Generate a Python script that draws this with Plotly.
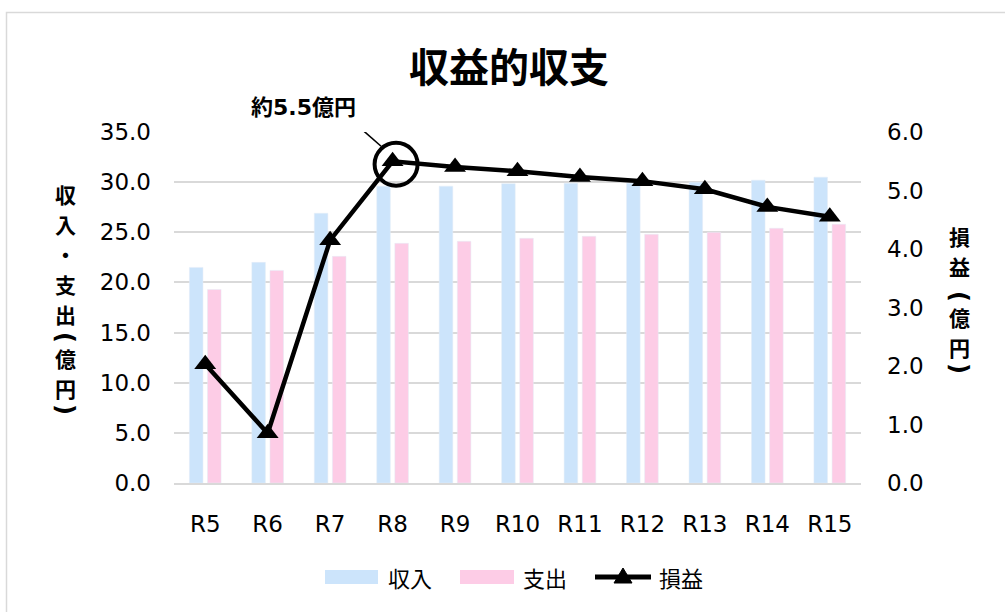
import plotly.graph_objects as go

# 年度別の収益的収支（億円）
years = ["R5", "R6", "R7", "R8", "R9", "R10", "R11", "R12", "R13", "R14", "R15"]
income = [21.5, 22.0, 26.9, 29.6, 29.6, 29.85, 29.9, 29.9, 30.0, 30.2, 30.5]
expense = [19.3, 21.2, 22.6, 23.9, 24.1, 24.4, 24.6, 24.8, 25.0, 25.4, 25.8]
profit = [2.03, 0.85, 4.15, 5.5, 5.4, 5.33, 5.23, 5.16, 5.02, 4.72, 4.55]

left_ticks = [0, 5, 10, 15, 20, 25, 30, 35]
right_ticks = [0, 1, 2, 3, 4, 5, 6]

highlight_year = "R8"
highlight_label = "約5.5億円"

BLUE = "#cce4fb"
PINK = "#fdcce6"
GRID = "#d9d9d9"
JP = "Noto Sans CJK JP"
NUM = "DejaVu Sans, Noto Sans CJK JP"

W, H = 1005, 612
ML, MR, MT, MB = 174, 144, 132, 129
PW = W - ML - MR
PH = H - MT - MB


def px_x(p):
    return (p - ML) / PW


def px_y(p):
    return (H - MB - p) / PH


fig = go.Figure()
fig.add_trace(go.Bar(x=years, y=income, name="収入", marker_color=BLUE))
fig.add_trace(go.Bar(x=years, y=expense, name="支出", marker_color=PINK))
fig.add_trace(go.Scatter(
    x=years, y=profit, name="損益", yaxis="y2", mode="lines+markers",
    line=dict(color="black", width=4.5),
    marker=dict(symbol="triangle-up", size=19, color="black"),
))

shapes = []
annotations = []

# outer chart frame
shapes.append(dict(type="rect", xref="paper", yref="paper",
                   x0=px_x(6.5), x1=px_x(1012), y0=px_y(620), y1=px_y(12.5),
                   line=dict(color=GRID, width=1.5), fillcolor="rgba(0,0,0,0)",
                   layer="below"))

# highlight ring and leader line on the peak year
hi = years.index(highlight_year)
hv = profit[hi]
shapes.append(dict(type="circle", xref="x", yref="y2",
                   xsizemode="pixel", ysizemode="pixel",
                   xanchor=hi, yanchor=hv,
                   x0=-18, x1=25, y0=-24.5, y1=18.5,
                   line=dict(color="black", width=4)))
shapes.append(dict(type="line", xref="x", yref="y2",
                   xsizemode="pixel", ysizemode="pixel",
                   xanchor=hi, yanchor=hv,
                   x0=-40, x1=-11.5, y0=40, y1=15,
                   line=dict(color="black", width=1.6)))
annotations.append(dict(x=hi, y=hv, xref="x", yref="y2", text=highlight_label,
                        showarrow=False, xshift=-89.5, yshift=54,
                        font=dict(family=NUM, size=22, color="black", weight="bold")))

# stacked vertical axis titles: one glyph per row, brackets turned sideways
left_title = [("収", 194), ("入", 224), ("・", 254), ("支", 284), ("出", 314),
              ("(", 337), ("億", 358), ("円", 388), (")", 409)]
right_title = [("損", 236), ("益", 266), ("(", 296), ("億", 317), ("円", 347), (")", 368)]
for chars, cx in [(left_title, 65), (right_title, 959)]:
    for ch, cy in chars:
        is_bracket = ch in "()"
        annotations.append(dict(xref="paper", yref="paper", x=px_x(cx), y=px_y(cy),
                                xanchor="center", yanchor="middle", text=ch,
                                textangle=90 if is_bracket else 0,
                                showarrow=False,
                                font=dict(family="DejaVu Sans" if is_bracket else JP,
                                          size=24 if is_bracket else 21,
                                          color="black", weight="bold")))

# legend row
LY = 577
for x0, x1, col, label, tx in [(325, 378, BLUE, "収入", 386), (460, 514, PINK, "支出", 521)]:
    shapes.append(dict(type="rect", xref="paper", yref="paper",
                       x0=px_x(x0), x1=px_x(x1), y0=px_y(LY + 7), y1=px_y(LY - 7),
                       fillcolor=col, line=dict(width=0)))
    annotations.append(dict(xref="paper", yref="paper", x=px_x(tx), y=px_y(LY),
                            xanchor="left", yanchor="middle", text=label, showarrow=False,
                            font=dict(family=JP, size=22, color="black")))
shapes.append(dict(type="line", xref="paper", yref="paper",
                   x0=px_x(595), x1=px_x(651), y0=px_y(LY), y1=px_y(LY),
                   line=dict(color="black", width=5)))
tri = "M {} {} L {} {} L {} {} Z".format(px_x(614), px_y(LY + 6), px_x(632), px_y(LY + 6),
                                         px_x(623), px_y(LY - 9))
shapes.append(dict(type="path", xref="paper", yref="paper", path=tri,
                   fillcolor="black", line=dict(color="black", width=1)))
annotations.append(dict(xref="paper", yref="paper", x=px_x(657), y=px_y(LY),
                        xanchor="left", yanchor="middle", text="損益", showarrow=False,
                        font=dict(family=JP, size=22, color="black")))

fig.update_layout(
    width=W, height=H,
    margin=dict(l=ML, r=MR, t=MT, b=MB),
    paper_bgcolor="white", plot_bgcolor="white",
    barmode="group", bargap=0.42, bargroupgap=0.25,
    showlegend=False,
    title=dict(text="収益的収支", xref="container", yref="container",
               x=509 / W, y=1 - 68 / H, xanchor="center", yanchor="middle",
               font=dict(family=JP, size=40, color="black", weight="bold")),
    xaxis=dict(range=[-0.5, len(years) - 0.5], showgrid=False, showline=True,
               linecolor=GRID, linewidth=1.5, ticks="", ticklabelstandoff=20,
               tickfont=dict(family=NUM, size=23, color="black")),
    yaxis=dict(range=[0, 35], tickvals=left_ticks, tickformat=".1f",
               showgrid=True, gridcolor=GRID, gridwidth=1.5, zeroline=False,
               showline=False, ticks="", ticklabelstandoff=22,
               tickfont=dict(family=NUM, size=23, color="black")),
    yaxis2=dict(range=[0, 6], tickvals=right_ticks, tickformat=".1f",
                overlaying="y", side="right", showgrid=False, zeroline=False,
                showline=False, ticks="", ticklabelstandoff=25,
                tickfont=dict(family=NUM, size=23, color="black")),
    shapes=shapes,
    annotations=annotations,
)

fig.write_html("out.html")
